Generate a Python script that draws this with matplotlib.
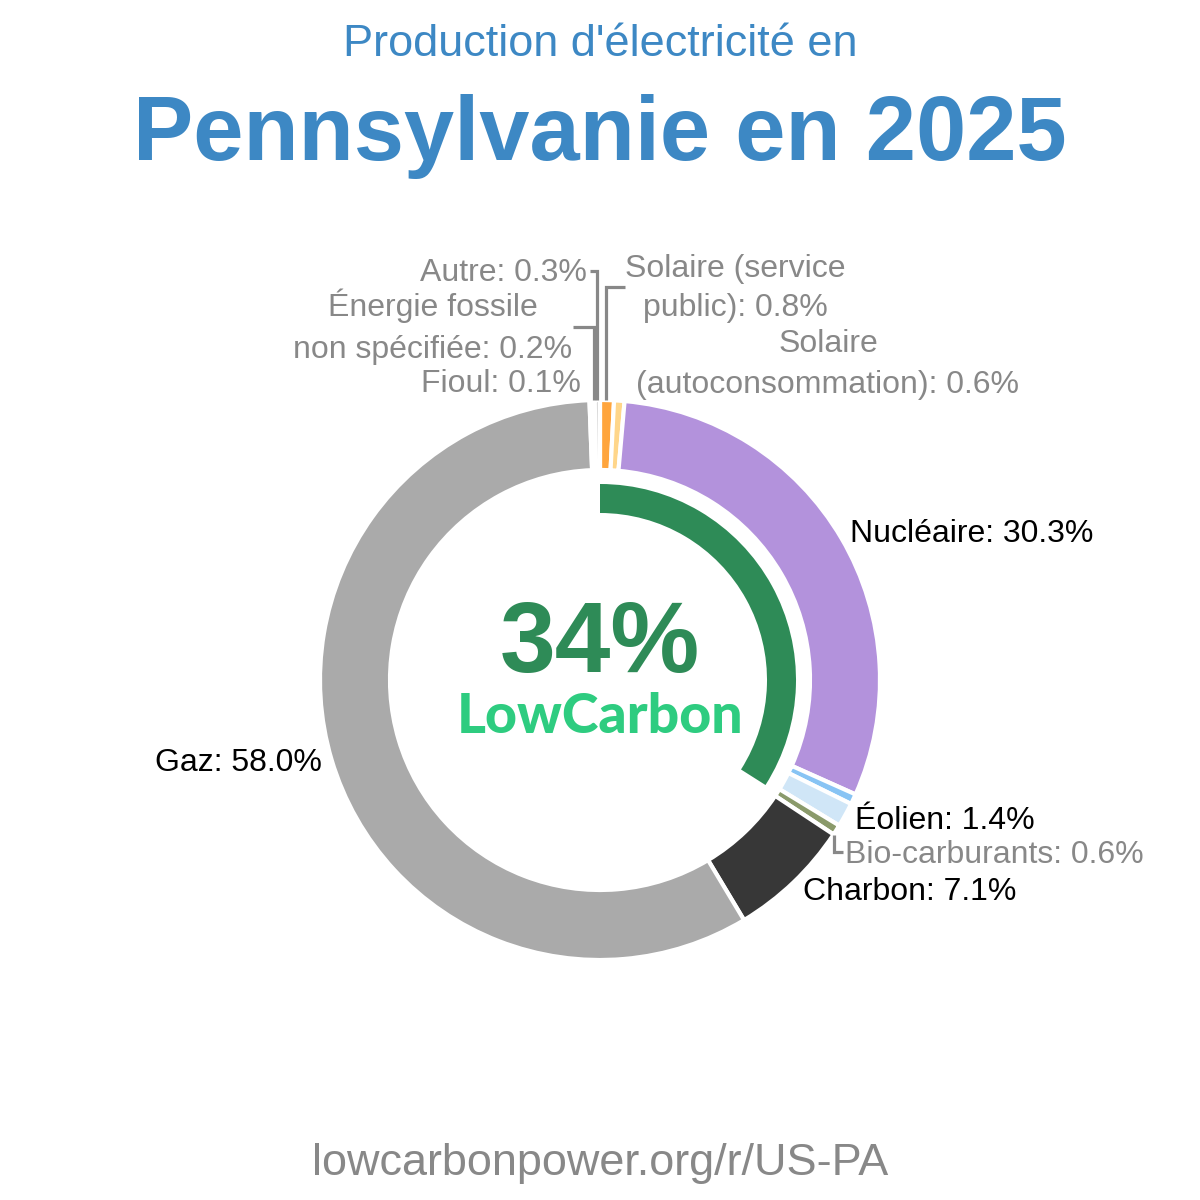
import matplotlib
matplotlib.use("Agg")
import matplotlib.pyplot as plt
from matplotlib.patches import Wedge

# ---- data ----
sources = ["Solaire (service public)", "Solaire (autoconsommation)", "Nucléaire",
           "Hydroélectricité", "Éolien", "Bio-carburants", "Charbon", "Gaz",
           "Fioul", "Énergie fossile non spécifiée", "Autre"]
shares = [0.8, 0.6, 30.3, 0.6, 1.4, 0.6, 7.1, 58.0, 0.1, 0.2, 0.3]
colors = ["#ffa53d", "#ffd68a", "#b392dc", "#88c4f4", "#d0e6f7", "#8a9a6b",
          "#373737", "#aaaaaa", "#f0f0f0", "#e6e6e6", "#d8d8d8"]
lowcarbon_pct = 34

title_top = "Production d'électricité en"
title_main = "Pennsylvanie en 2025"
footer = "lowcarbonpower.org/r/US-PA"

plt.rcParams['font.family'] = ['Liberation Sans', 'DejaVu Sans']

fig = plt.figure(figsize=(12, 12), dpi=100)
ax = fig.add_axes([0, 0, 1, 1])

def Y(p):
    return 1200 - p

cx, cy = 600, Y(680)
R, W = 280, 70

ax.pie(shares, colors=colors, startangle=90, counterclock=False,
       radius=R, center=(cx, cy),
       wedgeprops=dict(width=W, edgecolor="white", linewidth=3))

# low-carbon arc
ax.add_patch(Wedge((cx, cy), 196, 90 - 360 * lowcarbon_pct / 100, 90,
                   width=29, facecolor="#2e8b57", edgecolor="none"))

ax.set_xlim(0, 1200)
ax.set_ylim(0, 1200)
ax.set_aspect('equal')
ax.axis('off')

blue = "#3d88c4"
ax.text(600, Y(56), title_top, ha='center', va='baseline', fontsize=32.5, color=blue)
ax.text(600, Y(160), title_main, ha='center', va='baseline', fontsize=65,
        color=blue, fontweight='bold')
ax.text(600, Y(1175), footer, ha='center', va='baseline', fontsize=32.4, color="#888888")

ax.text(600, Y(672), f"{lowcarbon_pct}%", ha='center', va='baseline', fontsize=72,
        color="#2e8b57", fontweight='bold')
ax.text(600, Y(733), "LowCarbon", ha='center', va='baseline', fontsize=40,
        color="#2ecc80", fontweight='black', family=['Lato', 'DejaVu Sans'])

fs = 23
gray = "#888888"
def lab(x, yb, s, ha, color):
    ax.text(x, Y(yb), s, ha=ha, va='baseline', fontsize=fs, color=color)

lab(850, 542, f"Nucléaire: {shares[2]}%", 'left', 'black')
lab(322, 771, f"Gaz: {shares[7]}%", 'right', 'black')
lab(855, 829, f"Éolien: {shares[4]}%", 'left', 'black')
lab(845, 863, f"Bio-carburants: {shares[5]}%", 'left', gray)
lab(803, 900, f"Charbon: {shares[6]}%", 'left', 'black')
lab(587, 281, f"Autre: {shares[10]}%", 'right', gray)
lab(433, 316, "Énergie fossile", 'center', gray)
lab(433, 358, f"non spécifiée: {shares[9]}%", 'center', gray)
lab(581, 392, f"Fioul: {shares[8]}%", 'right', gray)
lab(735, 277, "Solaire (service", 'center', gray)
lab(735, 316, f"public): {shares[0]}%", 'center', gray)
lab(828, 352, "Solaire", 'center', gray)
lab(828, 393, f"(autoconsommation): {shares[1]}%", 'center', gray)

# leader lines
lw = 2.3
def leader(xs, ys):
    ax.plot(xs, [Y(v) for v in ys], color=gray, lw=lw, solid_capstyle='butt',
            solid_joinstyle='miter')

leader([590, 597, 597], [271, 271, 400])
leader([573, 594, 594], [327, 327, 400])
leader([625, 606, 606], [287, 287, 400])
leader([834, 834, 843], [835, 852, 852])

fig.savefig("out.png", dpi=100, facecolor="white")
